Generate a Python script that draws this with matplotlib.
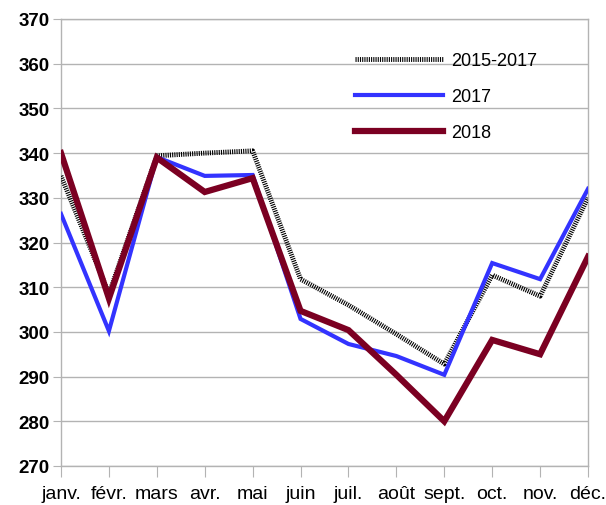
import matplotlib
matplotlib.use("Agg")
import matplotlib.pyplot as plt

months = ["janv.", "févr.", "mars", "avr.", "mai", "juin", "juil.", "août", "sept.", "oct.", "nov.", "déc."]
avg_2015_2017 = [334.9, 308.5, 339.4, 340.0, 340.5, 311.8, 306.0, 299.5, 292.8, 312.7, 308.0, 330.0]
y2017 = [326.4, 300.2, 339.1, 334.9, 335.1, 302.9, 297.3, 294.6, 290.4, 315.4, 311.8, 332.0]
y2018 = [340.0, 307.5, 339.0, 331.3, 334.4, 304.7, 300.4, 290.4, 280.0, 298.2, 295.0, 316.8]
yticks = [270, 280, 290, 300, 310, 320, 330, 340, 350, 360, 370]

plt.rcParams['font.family'] = ['Liberation Sans', 'DejaVu Sans']
plt.rcParams['lines.scale_dashes'] = False

fig = plt.figure(figsize=(6.06, 5.06), dpi=100)
ax = fig.add_axes([61/606, 1-467/506, (588-61)/606, (467-20)/506])

x = list(range(len(months)))
ax.plot(x, avg_2015_2017, color='black', lw=3.5, linestyle=(0, (0.8, 0.8)), label='2015-2017', zorder=3)
ax.plot(x, y2017, color='#3333ff', lw=3.0, label='2017', zorder=4, solid_joinstyle='miter')
ax.plot(x, y2018, color='#7b0022', lw=4.5, label='2018', zorder=5, solid_joinstyle='miter')

ax.set_xlim(0, len(months)-1)
ax.set_ylim(270, 370)
ax.set_yticks(yticks)
ax.set_yticklabels([str(v) for v in yticks], fontsize=13.5, fontweight='bold')
ax.set_xticks(x)
ax.set_xticklabels(months, fontsize=14)
ax.grid(axis='y', color='#b3b3b3', lw=1)
for s in ax.spines.values():
    s.set_color('#b3b3b3')
    s.set_linewidth(1)
ax.tick_params(axis='y', length=6, color='#b3b3b3', pad=2)
ax.tick_params(axis='x', length=8, color='#b3b3b3', pad=6)

leg = ax.legend(loc='upper left', bbox_to_anchor=((355-61)/527, 1-(53-20)/447), frameon=False,
                fontsize=13, handlelength=4.9, handletextpad=0.4, labelspacing=1.05,
                borderaxespad=0, borderpad=0)

fig.savefig('out.png', dpi=100)
